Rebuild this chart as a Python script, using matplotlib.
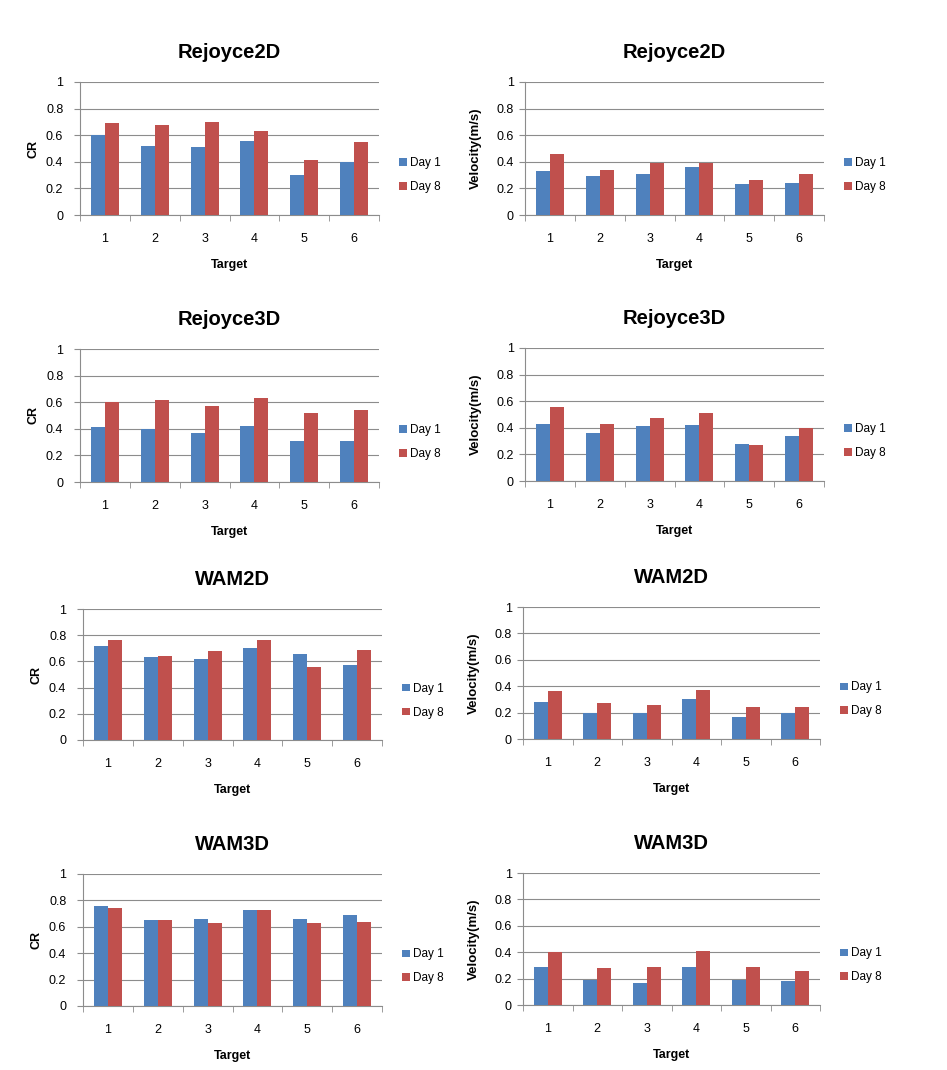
import matplotlib
matplotlib.use("Agg")
import matplotlib.pyplot as plt
import numpy as np

plt.rcParams['font.family'] = ['Liberation Sans', 'DejaVu Sans']

targets = ['1', '2', '3', '4', '5', '6']
series_names = ['Day 1', 'Day 8']

rejoyce2d_cr_day1 = [0.60, 0.52, 0.51, 0.56, 0.30, 0.40]
rejoyce2d_cr_day8 = [0.69, 0.68, 0.70, 0.63, 0.41, 0.55]
rejoyce2d_vel_day1 = [0.33, 0.29, 0.31, 0.36, 0.23, 0.24]
rejoyce2d_vel_day8 = [0.46, 0.34, 0.39, 0.39, 0.26, 0.31]

rejoyce3d_cr_day1 = [0.41, 0.40, 0.37, 0.42, 0.31, 0.31]
rejoyce3d_cr_day8 = [0.60, 0.62, 0.57, 0.63, 0.52, 0.54]
rejoyce3d_vel_day1 = [0.43, 0.36, 0.41, 0.42, 0.28, 0.34]
rejoyce3d_vel_day8 = [0.56, 0.43, 0.47, 0.51, 0.27, 0.40]

wam2d_cr_day1 = [0.72, 0.63, 0.62, 0.70, 0.66, 0.57]
wam2d_cr_day8 = [0.76, 0.64, 0.68, 0.76, 0.56, 0.69]
wam2d_vel_day1 = [0.28, 0.20, 0.20, 0.30, 0.17, 0.20]
wam2d_vel_day8 = [0.36, 0.27, 0.26, 0.37, 0.24, 0.24]

wam3d_cr_day1 = [0.76, 0.65, 0.66, 0.73, 0.66, 0.69]
wam3d_cr_day8 = [0.74, 0.65, 0.63, 0.73, 0.63, 0.64]
wam3d_vel_day1 = [0.29, 0.19, 0.17, 0.29, 0.19, 0.18]
wam3d_vel_day8 = [0.40, 0.28, 0.29, 0.41, 0.29, 0.26]

titles = ['Rejoyce2D', 'Rejoyce2D', 'Rejoyce3D', 'Rejoyce3D', 'WAM2D', 'WAM2D', 'WAM3D', 'WAM3D']
ylabels = ['CR', 'Velocity(m/s)'] * 4
data = [
    (rejoyce2d_cr_day1, rejoyce2d_cr_day8), (rejoyce2d_vel_day1, rejoyce2d_vel_day8),
    (rejoyce3d_cr_day1, rejoyce3d_cr_day8), (rejoyce3d_vel_day1, rejoyce3d_vel_day8),
    (wam2d_cr_day1, wam2d_cr_day8), (wam2d_vel_day1, wam2d_vel_day8),
    (wam3d_cr_day1, wam3d_cr_day8), (wam3d_vel_day1, wam3d_vel_day8),
]

W, H = 947, 1070
fig = plt.figure(figsize=(W / 100, H / 100), dpi=100)

# plot-area rectangles in pixels: (left, top, right, bottom)
rects = [
    (80, 82, 379, 215), (525, 82, 824, 215),
    (80, 349, 379, 482), (525, 348, 824, 481),
    (83, 609, 382, 740), (523, 607, 820, 739),
    (83, 874, 382, 1006), (523, 873, 820, 1005),
]

blue = '#4F81BD'
red = '#C0504D'
grid_c = '#8C8C8C'

for i, (rect, title, ylab, (d1, d8)) in enumerate(zip(rects, titles, ylabels, data)):
    l, t, r, b = rect
    ax = fig.add_axes([l / W, 1 - b / H, (r - l) / W, (b - t) / H])
    x = np.arange(len(targets))
    bw = 0.28
    ax.bar(x - bw / 2, d1, bw, color=blue, label=series_names[0], zorder=3)
    ax.bar(x + bw / 2, d8, bw, color=red, label=series_names[1], zorder=3)
    ax.set_xlim(-0.5, 5.5)
    ax.set_ylim(0, 1)
    ax.set_yticks([0, 0.2, 0.4, 0.6, 0.8, 1.0])
    ax.set_yticklabels(['0', '0.2', '0.4', '0.6', '0.8', '1'])
    ax.yaxis.grid(True, color=grid_c, linewidth=0.8, zorder=0)
    ax.set_axisbelow(True)
    ax.set_xticks(x)
    ax.set_xticklabels(targets)
    ax.set_xticks(np.arange(-0.5, 6, 1), minor=True)
    ax.tick_params(axis='x', which='major', length=0, pad=13, labelsize=9)
    ax.tick_params(axis='x', which='minor', length=4, color=grid_c, direction='out')
    is_cr = (ylab == 'CR')
    ax.tick_params(axis='y', length=4, color=grid_c, direction='out',
                   pad=8 if is_cr else 4, labelsize=9)
    for s in ['top', 'right']:
        ax.spines[s].set_visible(False)
    ax.spines['left'].set_color(grid_c)
    ax.spines['bottom'].set_color(grid_c)
    ax.set_title(title, fontsize=14.5, fontweight='bold', pad=17)
    ax.set_xlabel('Target', fontsize=9, fontweight='bold', labelpad=10)
    if is_cr:
        ax.set_ylabel(ylab, fontsize=9, fontweight='bold')
        ax.yaxis.set_label_coords(-0.135, 0.5)
    else:
        ax.set_ylabel(ylab, fontsize=9.5, fontweight='bold')
        ax.yaxis.set_label_coords(-0.145, 0.5)
    ax.legend(loc='center left', bbox_to_anchor=(1.033, 0.30), frameon=False,
              fontsize=8.5, handlelength=0.6, handleheight=0.6, handletextpad=0.3,
              labelspacing=1.0)

fig.savefig('out.png', dpi=100, facecolor='white')
